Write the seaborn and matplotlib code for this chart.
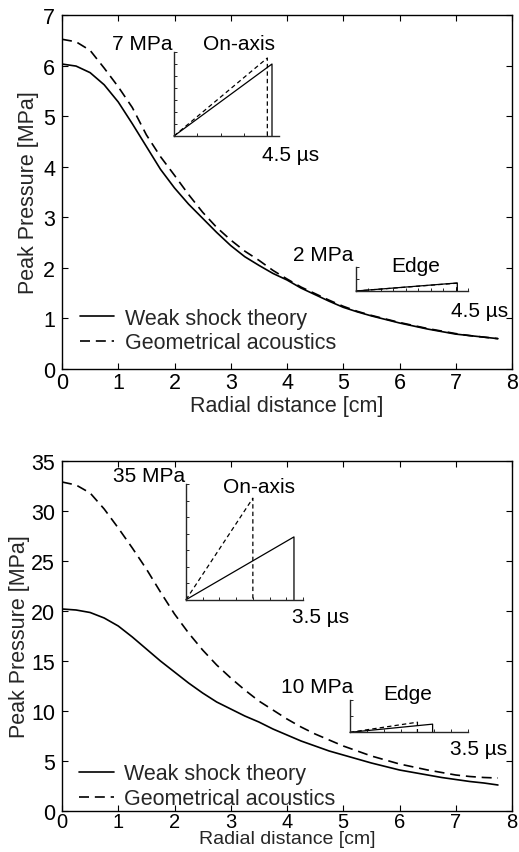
import numpy as np
import pandas as pd
import matplotlib
matplotlib.use("Agg")
import matplotlib.pyplot as plt
import seaborn as sns

# ---------------- data ----------------
radial_cm = [0.0, 0.25, 0.5, 0.75, 1.0, 1.25, 1.5, 1.75, 2.0, 2.25, 2.5, 2.75,
             3.0, 3.25, 3.5, 3.75, 4.0, 4.25, 4.5, 4.75, 5.0, 5.25, 5.5, 5.75,
             6.0, 6.25, 6.5, 6.75, 7.0, 7.25, 7.5, 7.75]

top_weak = [6.03, 5.99, 5.86, 5.62, 5.28, 4.85, 4.40, 3.95, 3.58, 3.26, 2.98, 2.70,
            2.44, 2.22, 2.05, 1.89, 1.76, 1.60, 1.47, 1.34, 1.22, 1.13, 1.05, 0.98,
            0.91, 0.85, 0.79, 0.74, 0.69, 0.66, 0.63, 0.60]
top_geo = [6.52, 6.47, 6.30, 5.95, 5.58, 5.17, 4.63, 4.20, 3.83, 3.45, 3.10, 2.80,
           2.55, 2.33, 2.15, 1.95, 1.78, 1.62, 1.49, 1.36, 1.24, 1.14, 1.06, 0.99,
           0.92, 0.86, 0.80, 0.75, 0.70, 0.66, 0.63, 0.60]

bot_weak = [20.2, 20.1, 19.85, 19.3, 18.5, 17.4, 16.2, 15.0, 13.9, 12.8, 11.8, 10.9,
            10.2, 9.5, 8.9, 8.2, 7.6, 7.0, 6.5, 6.0, 5.6, 5.2, 4.8, 4.45,
            4.1, 3.85, 3.6, 3.35, 3.15, 2.95, 2.8, 2.6]
bot_geo = [32.9, 32.6, 31.8, 30.2, 28.3, 26.3, 24.2, 21.9, 19.7, 17.8, 16.1, 14.6,
           13.3, 12.1, 11.0, 10.1, 9.2, 8.4, 7.7, 7.1, 6.5, 6.0, 5.5, 5.1,
           4.7, 4.4, 4.1, 3.85, 3.6, 3.45, 3.35, 3.3]

# inset waveforms (time in us, pressure in MPa)
top_axis_weak_t = [0, 4.2, 4.2];  top_axis_weak_p = [0, 6.0, 0]
top_axis_geo_t = [0, 4.0, 4.0];   top_axis_geo_p = [0, 6.5, 0]
top_edge_weak_t = [0, 4.07, 4.07]; top_edge_weak_p = [0, 0.67, 0]
top_edge_geo_t = [0, 4.05, 4.05];  top_edge_geo_p = [0, 0.65, 0]
bot_axis_weak_t = [0, 3.23, 3.23]; bot_axis_weak_p = [0, 19.0, 0]
bot_axis_geo_t = [0, 2.0, 2.0];    bot_axis_geo_p = [0, 30.7, 0]
bot_edge_weak_t = [0, 2.45, 2.45]; bot_edge_weak_p = [0, 2.5, 0]
bot_edge_geo_t = [0, 2.0, 2.0];    bot_edge_geo_p = [0, 3.1, 0]

x_ticks = [0, 1, 2, 3, 4, 5, 6, 7, 8]
top_y_ticks = [0, 1, 2, 3, 4, 5, 6, 7]
bot_y_ticks = [0, 5, 10, 15, 20, 25, 30, 35]
legend_labels = ["Weak shock theory", "Geometrical acoustics"]

# ---------------- style ----------------
sns.set_style("ticks")
plt.rcParams["font.family"] = ["Liberation Sans", "DejaVu Sans"]
plt.rcParams["axes.linewidth"] = 1.0

FS = 15.5
W, H = 519, 853
fig = plt.figure(figsize=(W / 100, H / 100), dpi=100)
fig.patch.set_facecolor("white")


def px_axes(left, right, top, bottom):
    return fig.add_axes([left / W, 1 - bottom / H, (right - left) / W, (bottom - top) / H])


def ftext(x, y, s, size=15, ha="left"):
    fig.text(x / W, 1 - y / H, s, fontsize=size, ha=ha, va="baseline", color="black")


MAIN_DASH = (0, (6, 3.5))
INSET_DASH = (0, (3.5, 2.5))


def main_panel(ax, weak, geo, yticks, ymax, leg_anchor, tick_pad, xfs, xlfs):
    df = pd.DataFrame({"r": radial_cm, "weak": weak, "geo": geo})
    sns.lineplot(data=df, x="r", y="weak", ax=ax, color="black", lw=1.2,
                 estimator=None, sort=False, label=legend_labels[0])
    sns.lineplot(data=df, x="r", y="geo", ax=ax, color="black", lw=1.2,
                 linestyle=MAIN_DASH, estimator=None, sort=False, label=legend_labels[1])
    ax.set_xlim(0, 8)
    ax.set_ylim(0, ymax)
    ax.set_xticks(x_ticks)
    ax.set_yticks(yticks)
    ax.tick_params(direction="in", top=True, right=True, length=4, width=0.8,
                   labelsize=FS, pad=5, colors="black")
    ax.tick_params(axis="x", pad=tick_pad, labelsize=xfs)
    for s in ax.spines.values():
        s.set_visible(True)
        s.set_linewidth(1.0)
        s.set_color("black")
    ax.set_xlabel("Radial distance [cm]", fontsize=xlfs)
    ax.set_ylabel("Peak Pressure [MPa]", fontsize=FS)
    ax.set_facecolor("white")
    ax.legend(loc="lower left", bbox_to_anchor=leg_anchor, frameon=False,
              fontsize=FS, handlelength=1.6, handletextpad=0.5, labelspacing=0.18,
              borderpad=0, borderaxespad=0)


def inset(ax, wt, wp, gt, gp, xmax, ymax, xticks, yticks):
    dfw = pd.DataFrame({"t": wt, "p": wp})
    dfg = pd.DataFrame({"t": gt, "p": gp})
    sns.lineplot(data=dfw, x="t", y="p", ax=ax, color="black", lw=0.9,
                 estimator=None, sort=False, clip_on=False)
    sns.lineplot(data=dfg, x="t", y="p", ax=ax, color="black", lw=0.9,
                 linestyle=INSET_DASH, estimator=None, sort=False, clip_on=False)
    ax.set_xlim(0, xmax)
    ax.set_ylim(0, ymax)
    ax.set_xticks(xticks)
    ax.set_yticks(yticks)
    ax.set_xticklabels([])
    ax.set_yticklabels([])
    ax.set_xlabel("")
    ax.set_ylabel("")
    ax.tick_params(direction="in", length=2.2, width=0.7)
    ax.spines["top"].set_visible(False)
    ax.spines["right"].set_visible(False)
    ax.spines["left"].set_linewidth(1.0)
    ax.spines["bottom"].set_linewidth(1.0)
    ax.patch.set_alpha(0)
    if ax.get_legend():
        ax.get_legend().remove()


# ---------------- top panel ----------------
ax1 = px_axes(62, 512, 16, 370)
main_panel(ax1, top_weak, top_geo, top_y_ticks, 7, (0.04, 0.044), 2, FS, FS)
ax1.yaxis.set_label_coords((39 - 62) / 450, 0.5)
ax1.xaxis.set_label_coords(0.5, (370 - 396) / 354)

ia1 = px_axes(174, 279, 53, 137)
inset(ia1, top_axis_weak_t, top_axis_weak_p, top_axis_geo_t, top_axis_geo_p,
      4.5, 7, [0, 1, 2, 3, 4], list(range(8)))
ia2 = px_axes(356, 468, 268, 292)
inset(ia2, top_edge_weak_t, top_edge_weak_p, top_edge_geo_t, top_edge_geo_p,
      4.5, 2, list(np.arange(0, 4.51, 0.5)), [0, 1, 2])

ftext(173, 50, "7 MPa", ha="right")
ftext(239, 50.5, "On-axis", ha="center")
ftext(291, 161, "4.5 µs", ha="center")
ftext(353, 261.5, "2 MPa", ha="right")
ftext(416, 271.5, "Edge", ha="center")
ftext(480, 317, "4.5 µs", ha="center")

# ---------------- bottom panel ----------------
ax2 = px_axes(62, 512, 462, 812)
main_panel(ax2, bot_weak, bot_geo, bot_y_ticks, 35, (0.038, 0.005), 1, 14.5, 14)
ax2.yaxis.set_label_coords((30 - 62) / 450, 0.5)
ax2.xaxis.set_label_coords(0.5, (812 - 830.9) / 350)

ib1 = px_axes(186, 303, 485, 600.7)
inset(ib1, bot_axis_weak_t, bot_axis_weak_p, bot_axis_geo_t, bot_axis_geo_p,
      3.5, 35, list(np.arange(0, 3.51, 0.5)), list(range(0, 36, 5)))
ib2 = px_axes(350, 468, 700.7, 733.3)
inset(ib2, bot_edge_weak_t, bot_edge_weak_p, bot_edge_geo_t, bot_edge_geo_p,
      3.5, 10, list(np.arange(0, 3.51, 0.5)), [0, 5, 10])

ftext(185, 481.7, "35 MPa", ha="right")
ftext(259.5, 493.3, "On-axis", ha="center")
ftext(321, 623.3, "3.5 µs", ha="center")
ftext(353, 693.3, "10 MPa", ha="right")
ftext(407.5, 700, "Edge", ha="center")
ftext(479, 755, "3.5 µs", ha="center")

fig.savefig("out.png", dpi=100, facecolor="white")
